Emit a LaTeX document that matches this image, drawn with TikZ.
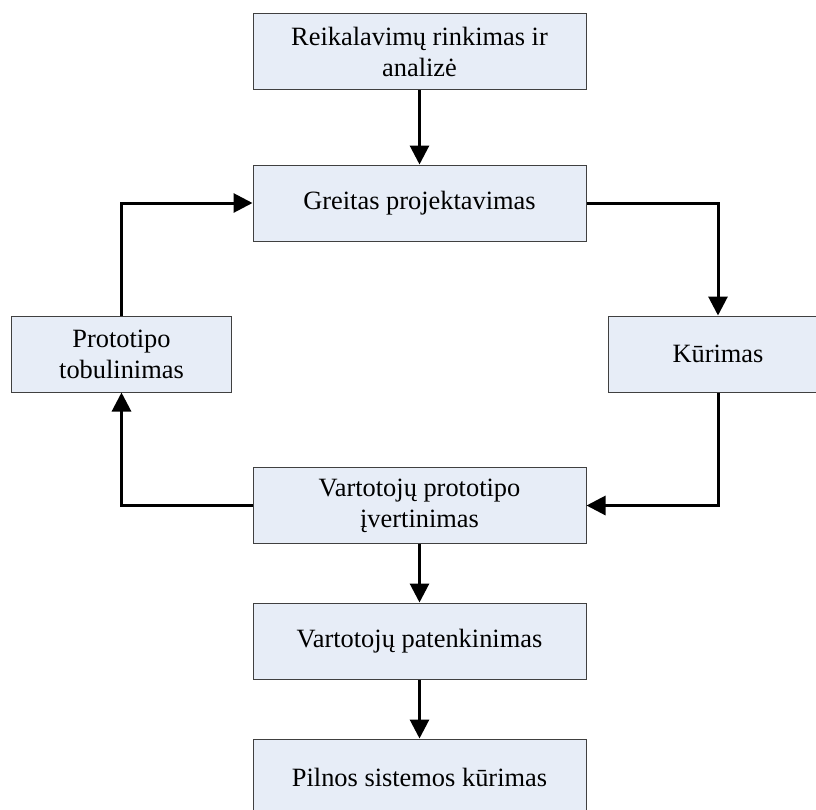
\documentclass[tikz,border=0pt]{standalone}
\usepackage{fontspec}
\setmainfont{Liberation Serif}
\usetikzlibrary{arrows.meta}

\definecolor{boxfill}{RGB}{231,237,247}
\definecolor{boxedge}{RGB}{64,64,64}

\tikzset{
  stage/.style={draw=boxedge, line width=1pt, fill=boxfill,
    minimum width=333pt, minimum height=76pt, inner sep=0pt,
    align=center, font=\fontsize{26.4}{31}\selectfont},
  sidestage/.style={stage, minimum width=220pt},
  flow/.style={line width=3pt, -{Triangle[length=19pt,width=19pt]}}
}

\begin{document}
\begin{tikzpicture}[x=1pt, y=-1pt]
  \path[use as bounding box, clip] (0,0) rectangle (816,809);

  % process stages
  \node[stage] (req)  at (419.5,51.5) {Reikalavimų rinkimas ir\\analizė};
  \node[stage] (quick) at (419.5,203) {Greitas projektavimas};
  \node[sidestage] (refine) at (121.5,354) {Prototipo\\tobulinimas};
  \node[sidestage] (build)  at (718,354) {Kūrimas};
  \node[stage] (eval) at (419.5,505.5) {Vartotojų prototipo\\įvertinimas};
  \node[stage] (satisfy) at (419.5,641) {Vartotojų patenkinimas};
  \node[stage] (full) at (419.5,777) {Pilnos sistemos kūrimas};

  % prototyping loop and main flow
  \draw[flow] (req) -- (quick);
  \draw[flow] (quick.east) -| (build.north);
  \draw[flow] (build.south) |- (eval.east);
  \draw[flow] (eval.west) -| (refine.south);
  \draw[flow] (refine.north) |- (quick.west);
  \draw[flow] (eval) -- (satisfy);
  \draw[flow] (satisfy) -- (full);
\end{tikzpicture}
\end{document}
